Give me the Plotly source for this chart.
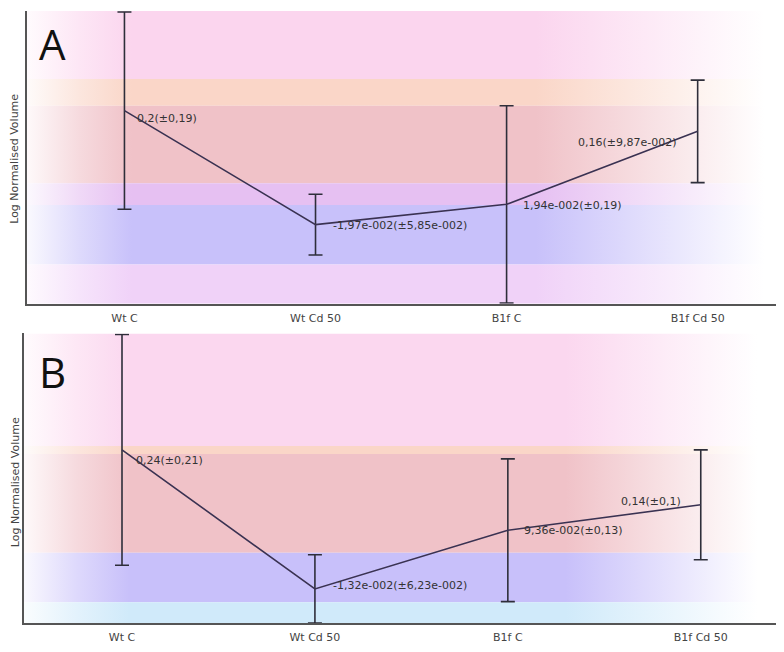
import plotly.graph_objects as go

# ---------------- data ----------------
categories = ["Wt C", "Wt Cd 50", "B1f C", "B1f Cd 50"]

a_means = [0.2, -0.0197, 0.0194, 0.16]
a_errors = [0.19, 0.0585, 0.19, 0.0987]
a_labels = ["0,2(±0,19)", "-1,97e-002(±5,85e-002)", "1,94e-002(±0,19)", "0,16(±9,87e-002)"]

b_means = [0.24, -0.0132, 0.0936, 0.14]
b_errors = [0.21, 0.0623, 0.13, 0.10]
b_labels = ["0,24(±0,21)", "-1,32e-002(±6,23e-002)", "9,36e-002(±0,13)", "0,14(±0,1)"]

# ---------------- styling ----------------
# page body has an 8px margin; figure is sized to fit inside it
OFF = 8
W, H = 784 - 2 * OFF, 652 - 2 * OFF
def px(x):
    return min(1.0, max(0.0, (x - OFF) / W))
def py(y):
    return min(1.0, max(0.0, 1 - (y - OFF) / H))

a_xrange = [-0.51, 3.41]
a_yrange = [-0.172, 0.392]
b_xrange = [-0.508, 3.39]
b_yrange = [-0.0755, 0.452]

# background bands: (bottom, top, colour)
a_bands = [
    (0.261, 0.392, "rgb(251,213,238)"),
    (0.2096, 0.261, "rgb(250,214,200)"),
    (0.060, 0.2096, "rgb(240,194,200)"),
    (0.018, 0.060, "rgb(230,192,242)"),
    (-0.0966, 0.018, "rgb(200,193,250)"),
    (-0.172, -0.0966, "rgb(240,210,248)"),
]
b_bands = [
    (0.247, 0.452, "rgb(251,215,239)"),
    (0.2325, 0.247, "rgb(250,214,200)"),
    (0.0525, 0.2325, "rgb(240,194,200)"),
    (-0.0375, 0.0525, "rgb(200,192,250)"),
    (-0.0755, -0.0375, "rgb(208,234,250)"),
]

def mix(c, f):
    vals = [int(v) for v in c[4:-1].split(",")]
    m = [round(255 + (v - 255) * f) for v in vals]
    return "rgb(%d,%d,%d)" % tuple(m)

def band_traces(bands, xr, xa, ya, fade_l, full_l, full_r, white_r):
    out = []
    for lo, hi, col in bands:
        out.append(go.Scatter(
            x=[xr[0], xr[1], xr[1], xr[0], xr[0]],
            y=[lo, lo, hi, hi, lo],
            mode="none", fill="toself",
            fillgradient=dict(type="horizontal", colorscale=[
                [0, mix(col, fade_l)], [full_l * 0.5, mix(col, 0.6)], [full_l, col], [full_r, col],
                [white_r, "rgb(255,255,255)"], [1, "rgb(255,255,255)"]]),
            hoverinfo="skip", showlegend=False, xaxis=xa, yaxis=ya))
    return out

fig = go.Figure()

for t in band_traces(a_bands, a_xrange, "x", "y", 0.1, 0.14, 0.68, 0.985):
    fig.add_trace(t)
for t in band_traces(b_bands, b_xrange, "x2", "y2", 0.1, 0.14, 0.72, 0.975):
    fig.add_trace(t)

line_col = "#3a3252"
err_col = "#2e2e3a"

for means, errs, xa, ya in [(a_means, a_errors, "x", "y"), (b_means, b_errors, "x2", "y2")]:
    fig.add_trace(go.Scatter(
        x=list(range(len(categories))), y=means, mode="lines",
        line=dict(color=line_col, width=1.6),
        error_y=dict(type="data", array=errs, visible=True, color=err_col,
                     thickness=1.6, width=7),
        showlegend=False, xaxis=xa, yaxis=ya))

# label offsets (xshift, yshift, anchor)
a_off = [(11, -8, "left"), (15, -1, "left"), (14, -1, "left"), (-19, -11, "right")]
b_off = [(12, -11, "left"), (16, 3, "left"), (14, 0, "left"), (-18, 3, "right")]

annotations = []
for labels, means, offs, xa, ya in [(a_labels, a_means, a_off, "x", "y"),
                                     (b_labels, b_means, b_off, "x2", "y2")]:
    for i, (lab, m, (xs, ys, anc)) in enumerate(zip(labels, means, offs)):
        annotations.append(dict(
            x=i, y=m, xref=xa, yref=ya, text=lab, showarrow=False,
            xanchor=anc, yanchor="middle", xshift=xs, yshift=ys,
            font=dict(family="DejaVu Sans", size=11, color="#333333")))

# panel letters
for letter, (lx, ly) in [("A", (52, 44)), ("B", (52, 374))]:
    annotations.append(dict(x=px(lx), y=py(ly), xref="paper", yref="paper", text=letter,
                            showarrow=False, xanchor="center", yanchor="middle",
                            font=dict(family="Open Sans", size=42, color="#111111")))
# y titles
for yc in (160, 486):
    annotations.append(dict(x=px(15), y=py(yc), xref="paper", yref="paper",
                            text="Log Normalised Volume", textangle=-90, showarrow=False,
                            xanchor="center", yanchor="middle",
                            font=dict(family="DejaVu Sans", size=11, color="#444444")))

axis_common = dict(showgrid=False, zeroline=False, showline=True, linecolor="#555555",
                   linewidth=2)
tick_font = dict(family="DejaVu Sans", size=11, color="#444444")

fig.update_layout(
    width=W, height=H,
    margin=dict(l=0, r=0, t=0, b=0),
    paper_bgcolor="white", plot_bgcolor="white",
    showlegend=False,
    xaxis=dict(domain=[px(27), px(780)], anchor="y", range=a_xrange,
               tickvals=list(range(len(categories))), ticktext=categories,
               ticks="", ticklabelstandoff=3, tickfont=tick_font, **axis_common),
    yaxis=dict(domain=[py(306), py(11)], anchor="x", range=a_yrange,
               showticklabels=False, ticks="", **axis_common),
    xaxis2=dict(domain=[px(24), px(784)], anchor="y2", range=b_xrange,
                tickvals=list(range(len(categories))), ticktext=categories,
                ticks="", ticklabelstandoff=3, tickfont=tick_font, **axis_common),
    yaxis2=dict(domain=[py(628), py(336)], anchor="x2", range=b_yrange,
                showticklabels=False, ticks="", **axis_common),
    annotations=annotations,
)

fig.write_html("out.html")
